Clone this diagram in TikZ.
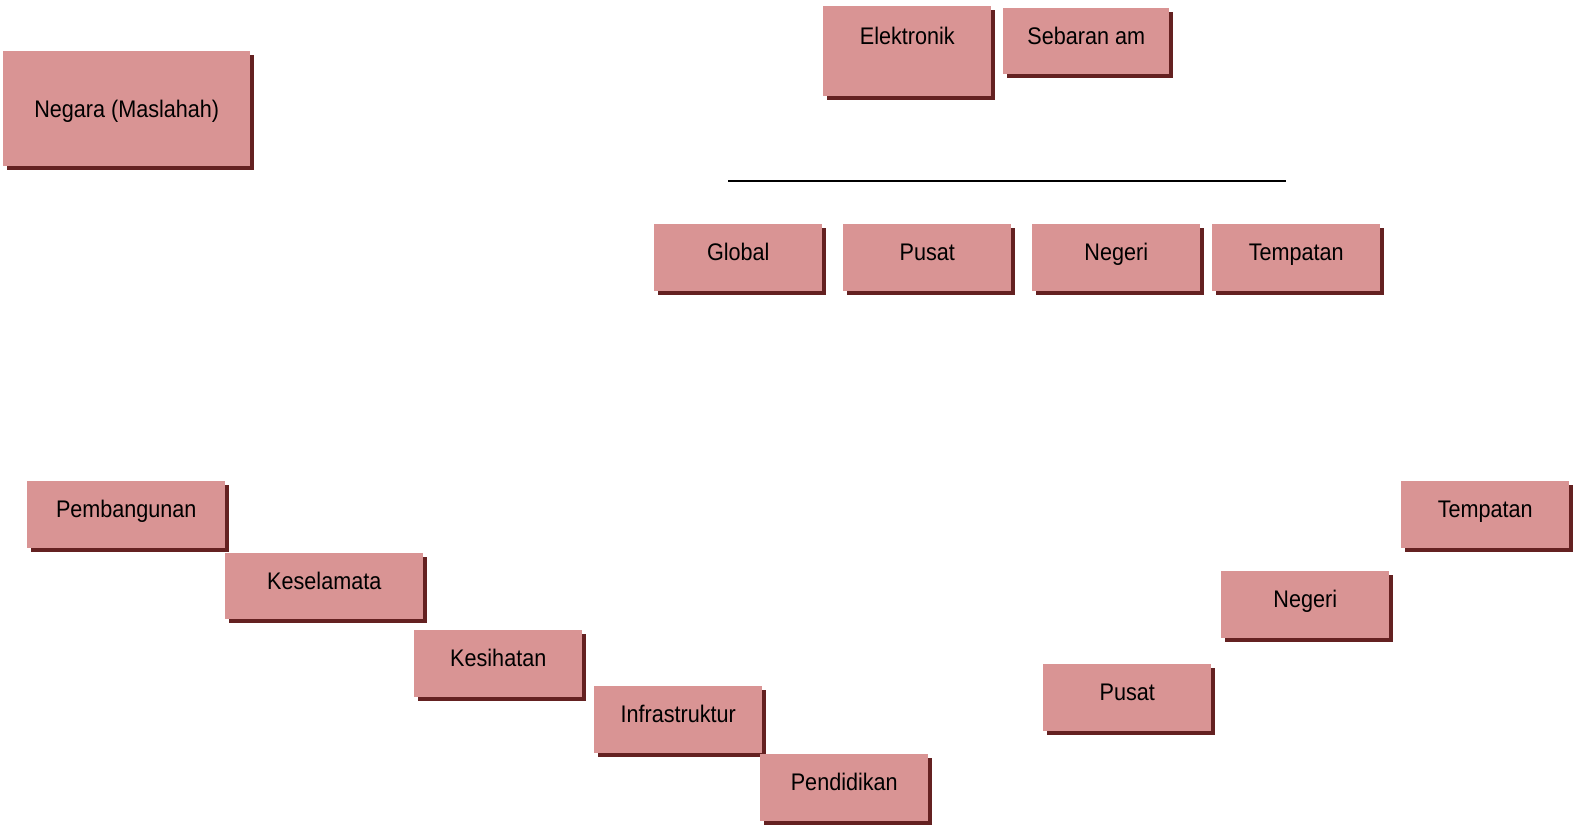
\documentclass[tikz,border=0pt]{standalone}
\usepackage{fontspec}
\setmainfont{Liberation Sans}[FakeStretch=0.9]
\usetikzlibrary{shadows}
\definecolor{boxpink}{RGB}{217,148,148}
\definecolor{boxshadow}{RGB}{100,33,33}
\begin{document}
\begin{tikzpicture}[x=0.75pt, y=-0.75pt,
    box/.style={anchor=north west, fill=boxpink, inner sep=0pt,
        minimum width=126pt, minimum height=50.25pt,
        text height=8.5pt, text depth=4pt,
        font=\fontsize{18pt}{21pt}\selectfont,
        general shadow={fill=boxshadow, shadow xshift=2.6pt, shadow yshift=-2.6pt}},
    wide/.style={minimum width=148.5pt}]
        \useasboundingbox (0,0) rectangle (1580,824);
        \node[box, minimum width=185.25pt, minimum height=86.25pt, text height=12.75pt, text depth=0pt] (negara) at (3,51) {Negara (Maslahah)};
        %
        \node[box, minimum height=67.5pt, text height=4pt, text depth=14.5pt] (elektronik) at (823,6) {Elektronik};
        \node[box, minimum width=124.5pt, minimum height=49.5pt] (sebaran) at (1003,8) {Sebaran am};
        %
        \coordinate (garisL) at (728,181);
        \coordinate (garisR) at (1286,181);
        \draw[line width=1.5pt] (garisL) -- (garisR);
        %
        \node[box] (global) at (654,224) {Global};
        \node[box] (pusatA) at (843,224) {Pusat};
        \node[box] (negeriA) at (1032,224) {Negeri};
        \node[box] (tempatanA) at (1212,224) {Tempatan};
        %
        \node[box, wide] (pembangunan) at (27,481) {Pembangunan};
        \node[box, wide, minimum height=49.5pt] (keselamata) at (225,553) {Keselamata};
        \node[box] (kesihatan) at (414,630) {Kesihatan};
        \node[box] (infrastruktur) at (594,686) {Infrastruktur};
        \node[box] (pendidikan) at (760,754) {Pendidikan};
        %
        \node[box] (pusatB) at (1043,664) {Pusat};
        \node[box] (negeriB) at (1221,571) {Negeri};
        \node[box] (tempatanB) at (1401,481) {Tempatan};
    \end{tikzpicture}
\end{document}
